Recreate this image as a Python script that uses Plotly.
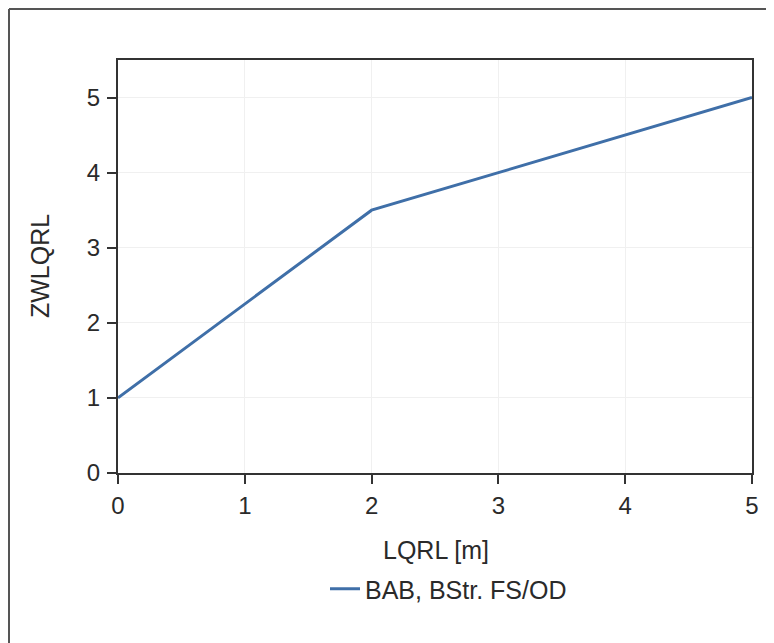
import plotly.graph_objects as go

x_vals = [0, 1, 2, 3, 4, 5]
y_vals = [1, 2.25, 3.5, 4, 4.5, 5]
series_name = "BAB, BStr. FS/OD"
x_title = "LQRL [m]"
y_title = "ZWLQRL"
x_ticks = [0, 1, 2, 3, 4, 5]
y_ticks = [0, 1, 2, 3, 4, 5]

# page has an 8px body margin; figure placed at (8,8)
OFF = 8
W, H = 766, 635
L, R, T, B = 110, 22, 52, 170
pw, ph = W - L - R, H - T - B

def px2x(px):  # page pixel -> paper x
    return (px - OFF - L) / pw

def py2y(py):  # page pixel -> paper y
    return (H - B - (py - OFF)) / ph

FONT = "Liberation Sans, Arial"
TXT = "#2a2a2a"

fig = go.Figure()
fig.add_trace(go.Scatter(x=x_vals, y=y_vals, mode="lines", name=series_name,
                         line=dict(color="#3f6fa8", width=3)))

axis_common = dict(showline=True, linecolor="#333333", linewidth=2, mirror=True,
                   ticks="outside", ticklen=9, tickwidth=2, tickcolor="#333333",
                   showgrid=True, gridcolor="#f0f0f0", gridwidth=1, zeroline=False,
                   tickfont=dict(family=FONT, size=24, color=TXT))

fig.update_xaxes(range=[0, 5], tickvals=x_ticks, ticklabelstandoff=1, **axis_common)
fig.update_yaxes(range=[0, 5.5], tickvals=y_ticks, ticklabelstandoff=2, **axis_common)

fig.add_annotation(text=x_title, xref="paper", yref="paper", x=px2x(436), y=py2y(550),
                   xanchor="center", yanchor="middle",
                   showarrow=False, font=dict(family=FONT, size=25, color=TXT))
fig.add_annotation(text=y_title, xref="paper", yref="paper", x=px2x(40), y=py2y(266),
                   xanchor="center", yanchor="middle",
                   showarrow=False, textangle=-90,
                   font=dict(family=FONT, size=25, color=TXT))

# outer chart border (top & left)
fig.add_shape(type="line", xref="paper", yref="paper", x0=px2x(9), y0=py2y(9), x1=px2x(774), y1=py2y(9),
              line=dict(color="#555555", width=2))
fig.add_shape(type="line", xref="paper", yref="paper", x0=px2x(9), y0=py2y(9), x1=px2x(9), y1=py2y(643),
              line=dict(color="#555555", width=2))

fig.update_layout(
    width=W, height=H,
    margin=dict(l=L, r=R, t=T, b=B),
    paper_bgcolor="white", plot_bgcolor="white",
    showlegend=True,
    legend=dict(orientation="h", x=px2x(325), y=py2y(589), xanchor="left", yanchor="middle",
                font=dict(family=FONT, size=25, color=TXT),
                bgcolor="rgba(0,0,0,0)"),
)

fig.write_html("out.html")
